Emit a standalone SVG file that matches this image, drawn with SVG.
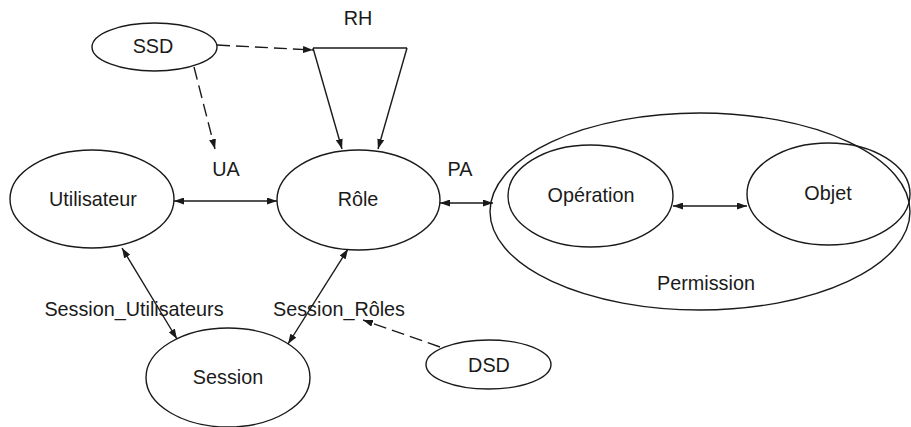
<svg xmlns="http://www.w3.org/2000/svg" width="911" height="427" viewBox="0 0 911 427">
  <style>
    .node { fill: none; stroke: #1a1a1a; stroke-width: 1.4; }
    .lbl { font-family: "Liberation Sans", Arial, sans-serif; font-size: 19.8px; fill: #1a1a1a; text-anchor: middle; }
    .edge { fill: none; stroke: #1a1a1a; stroke-width: 1.4; }
    .dash { stroke-dasharray: 13 6; }
  </style>
  <defs>
    <marker id="arrow" viewBox="0 0 10 7" refX="10" refY="3.5" markerWidth="10" markerHeight="7" markerUnits="userSpaceOnUse" orient="auto-start-reverse">
      <path d="M0,0 L10,3.5 L0,7 z" fill="#1a1a1a"/>
    </marker>
  </defs>
  <rect width="911" height="427" fill="#ffffff"/>

  <g id="ssd">
    <ellipse class="node" cx="154.5" cy="47" rx="62.5" ry="24"/>
    <text class="lbl" x="153" y="53">SSD</text>
  </g>
  <g id="rh">
    <text class="lbl" x="358" y="25">RH</text>
  </g>
  <g id="utilisateur">
    <ellipse class="node" cx="92" cy="199" rx="82" ry="49"/>
    <text class="lbl" x="93" y="206">Utilisateur</text>
  </g>
  <g id="role">
    <ellipse class="node" cx="358.5" cy="200" rx="81.5" ry="50"/>
    <text class="lbl" x="358" y="206">Rôle</text>
  </g>
  <g id="permission">
    <ellipse class="node" cx="700" cy="211.5" rx="210" ry="98.5"/>
    <text class="lbl" x="706" y="290">Permission</text>
  </g>
  <g id="operation">
    <ellipse class="node" cx="590.5" cy="196" rx="82.5" ry="51"/>
    <text class="lbl" x="591" y="202">Opération</text>
  </g>
  <g id="objet">
    <ellipse class="node" cx="828.5" cy="194" rx="81.5" ry="51"/>
    <text class="lbl" x="828" y="200">Objet</text>
  </g>
  <g id="session">
    <ellipse class="node" cx="228" cy="377.5" rx="82" ry="49.5"/>
    <text class="lbl" x="228" y="384">Session</text>
  </g>
  <g id="dsd">
    <ellipse class="node" cx="488.5" cy="364.5" rx="62.5" ry="24.5"/>
    <text class="lbl" x="489" y="372">DSD</text>
  </g>

  <g id="connectors">
    <!-- role hierarchy bracket -->
    <line class="edge" x1="313" y1="48" x2="407" y2="48"/>
    <line class="edge" x1="313" y1="48" x2="342" y2="149" marker-end="url(#arrow)"/>
    <line class="edge" x1="407" y1="48" x2="378" y2="149" marker-end="url(#arrow)"/>
    <!-- SSD constraints -->
    <line class="edge dash" x1="217" y1="45" x2="313" y2="50" marker-end="url(#arrow)"/>
    <line class="edge dash" x1="194" y1="67" x2="215" y2="149" marker-end="url(#arrow)"/>
    <!-- UA, PA, operation-object -->
    <line class="edge" x1="174" y1="201" x2="277" y2="201" marker-start="url(#arrow)" marker-end="url(#arrow)"/>
    <line class="edge" x1="440" y1="203" x2="493" y2="203" marker-start="url(#arrow)" marker-end="url(#arrow)"/>
    <line class="edge" x1="673" y1="206" x2="747" y2="206" marker-start="url(#arrow)" marker-end="url(#arrow)"/>
    <!-- sessions -->
    <line class="edge" x1="122" y1="248" x2="177" y2="339" marker-start="url(#arrow)" marker-end="url(#arrow)"/>
    <line class="edge" x1="348" y1="249" x2="288" y2="344" marker-start="url(#arrow)" marker-end="url(#arrow)"/>
    <!-- DSD constraint -->
    <line class="edge dash" x1="440" y1="347" x2="363" y2="320" marker-end="url(#arrow)"/>
    <!-- edge labels -->
    <text class="lbl" x="226" y="176">UA</text>
    <text class="lbl" x="460" y="176">PA</text>
    <text class="lbl" x="134" y="316">Session_Utilisateurs</text>
    <text class="lbl" x="339" y="316">Session_Rôles</text>
  </g>
</svg>
